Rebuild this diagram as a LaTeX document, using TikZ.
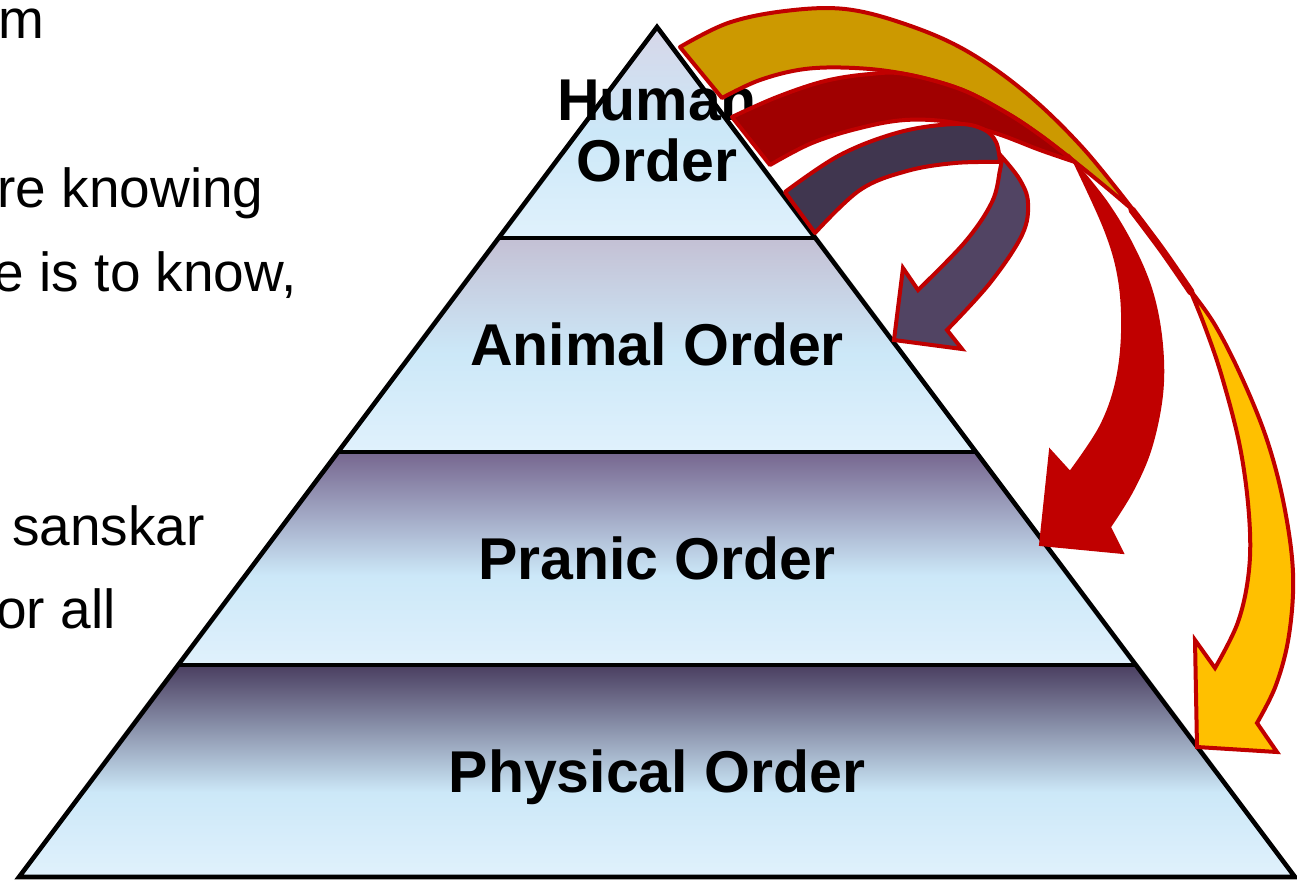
\documentclass[tikz,border=0pt]{standalone}
\usepackage{fontspec}
\setmainfont{Liberation Sans}
\definecolor{bandbot}{HTML}{E0F1FC}
\definecolor{bandmid}{HTML}{CCE8F8}
\definecolor{humtop}{HTML}{D6D6E8}
\definecolor{animtop}{HTML}{C4C0D4}
\definecolor{pranictop}{HTML}{76668F}
\definecolor{phystop}{HTML}{4A3E60}
\definecolor{goldback}{HTML}{CC9900}
\definecolor{goldfront}{HTML}{FFC000}
\definecolor{redback}{HTML}{A00000}
\definecolor{redfront}{HTML}{C00000}
\definecolor{purpback}{HTML}{40364F}
\definecolor{purpfront}{HTML}{514463}
\definecolor{arrowline}{HTML}{C00000}
\pgfdeclareverticalshading{humanshade}{100bp}{color(0bp)=(bandbot); color(25bp)=(bandbot); color(50bp)=(bandmid); color(75bp)=(humtop); color(100bp)=(humtop)}
\pgfdeclareverticalshading{animalshade}{100bp}{color(0bp)=(bandbot); color(25bp)=(bandbot); color(48bp)=(bandmid); color(75bp)=(animtop); color(100bp)=(animtop)}
\pgfdeclareverticalshading{pranicshade}{100bp}{color(0bp)=(bandbot); color(25bp)=(bandbot); color(46bp)=(bandmid); color(75bp)=(pranictop); color(100bp)=(pranictop)}
\pgfdeclareverticalshading{physshade}{100bp}{color(0bp)=(bandbot); color(25bp)=(bandbot); color(45bp)=(bandmid); color(75bp)=(phystop); color(100bp)=(phystop)}
\tikzset{
  label/.style={font=\fontsize{29.5pt}{30.5pt}\selectfont\bfseries, align=center, inner sep=0pt},
  side/.style={font=\fontsize{27.5pt}{32pt}\selectfont, inner sep=0pt, anchor=base east},
  outline/.style={draw=black, line width=2.3pt, line join=miter},
  arrowback/.style={draw=arrowline, line width=2pt, line join=round},
  arrowfront/.style={draw=arrowline, line width=2pt, line join=miter},
  sm/.style={smooth, tension=0.6},
}
\begin{document}
\begin{tikzpicture}[x=0.5pt, y=-0.5pt]
\useasboundingbox (0,0) rectangle (1297,880);
\clip (0,0) rectangle (1297,880);
% pyramid corners
\coordinate (apex) at (657,27);
\coordinate (l1) at (498.8,238); \coordinate (r1) at (815.2,238);
\coordinate (l2) at (338.4,452); \coordinate (r2) at (975.6,452);
\coordinate (l3) at (178.7,665); \coordinate (r3) at (1135.3,665);
\coordinate (l4) at (19,877);    \coordinate (r4) at (1295,877);
% bands
\shade[shading=humanshade] (apex) -- (r1) -- (l1) -- cycle;
\shade[shading=animalshade] (l1) -- (r1) -- (r2) -- (l2) -- cycle;
\shade[shading=pranicshade] (l2) -- (r2) -- (r3) -- (l3) -- cycle;
\shade[shading=physshade] (l3) -- (r3) -- (r4) -- (l4) -- cycle;
\draw[outline] (apex) -- (r4) -- (l4) -- cycle;
\draw[outline] (l1) -- (r1);
\draw[outline] (l2) -- (r2);
\draw[outline] (l3) -- (r3);
% labels
\node[label] (human) at (657,131) {Human\\Order};
\node[label, anchor=base] (animal) at (657,365) {Animal Order};
\node[label, anchor=base] (pranic) at (657,579) {Pranic Order};
\node[label, anchor=base] (physical) at (657,792) {Physical Order};
% left text fragments
\node[side] (t1) at (45,38) {m};
\node[side] (t2) at (264,207) {re knowing};
\node[side] (t3) at (297,291) {e is to know,};
\node[side] (t4) at (205,545) {sanskar};
\node[side] (t5) at (116,628) {or all};
% gold arrow
\path[arrowback, fill=goldback] (680,47)
  -- plot[sm] coordinates {(680,47) (728,23) (785,11) (845,9) (905,24) (965,50) (1025,92) (1082,147) (1134,211)}
  -- plot[sm] coordinates {(1134,211) (1107,188) (1075,162) (1040,135) (1005,112) (960,89) (905,74) (855,68) (805,69) (760,80) (722,98)}
  -- cycle;
\draw[draw=arrowline, line width=3.6pt, line cap=round] plot[sm] coordinates {(1132,210) (1162,250) (1191,292)};
\path[arrowfront, fill=goldfront] (1190,290)
  -- plot[sm] coordinates {(1190,290) (1215,325) (1242,378) (1267,440) (1284,505) (1293,573) (1289,635) (1276,685) (1257,723)}
  -- (1277,752) -- (1197,747) -- (1195,640)
  -- plot[sm] coordinates {(1215,668) (1238,622) (1249,570) (1249,515) (1240,447) (1222,377) (1205,327) (1190,290)}
  -- cycle;
% red arrow
\path[arrowback, fill=redback] (732,117)
  -- plot[sm] coordinates {(732,117) (777,97) (825,81) (870,74) (905,74) (960,89) (1005,112) (1040,135) (1075,162)}
  -- plot[sm] coordinates {(1075,162) (1040,150) (995,133) (950,122) (905,120) (860,128) (812,143) (770,165)}
  -- cycle;
\path[fill=redfront, draw=redfront, line width=1pt] (1073,160)
  -- plot[sm] coordinates {(1073,160) (1108,204) (1135,250) (1153,295) (1162,345) (1162,395) (1151,448) (1133,490) (1110,527)}
  -- (1123,553) -- (1040,545) -- (1050,450)
  -- plot[sm] coordinates {(1070,472) (1100,427) (1116,383) (1122,333) (1119,280) (1105,230) (1073,160)}
  -- cycle;
% purple arrow
\path[arrowback, fill=purpback] (785,192)
  -- plot[sm] coordinates {(785,192) (840,155) (900,132) (955,124) (983,129) (996,142) (1000,162)}
  -- plot[sm] coordinates {(1000,162) (955,163) (907,171) (860,190) (815,233)}
  -- cycle;
\path[arrowfront, fill=purpfront] (1002,157)
  -- plot[sm] coordinates {(1002,157) (1020,180) (1028,203) (1022,235) (990,283) (947,330)}
  -- (962,349) -- (894,340) -- (903,268)
  -- plot[sm] coordinates {(918,290) (965,242) (992,202) (1000,170) (1002,157)}
  -- cycle;
\end{tikzpicture}
\end{document}
